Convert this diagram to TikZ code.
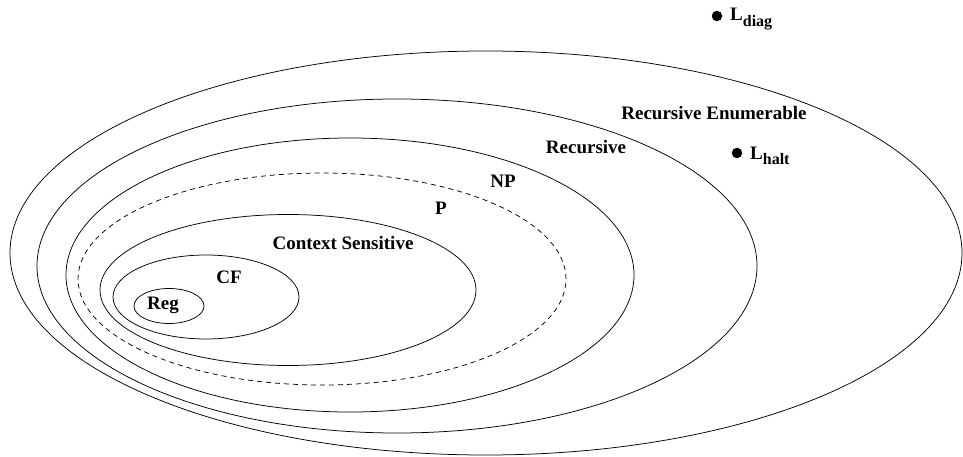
\documentclass[tikz,border=0pt]{standalone}
\usepackage{fontspec}
\setmainfont{Liberation Serif}
\usetikzlibrary{shapes.geometric}
\begin{document}
\begin{tikzpicture}[x=1pt,y=-1pt,
  cls/.style={draw, ellipse, line width=0.75pt, inner sep=0pt},
  lbl/.style={font=\fontsize{19}{19}\bfseries\selectfont, inner sep=0pt},
  lang/.style={circle, fill=black, inner sep=0pt, minimum size=10.5pt}]
\useasboundingbox (0,0) rectangle (963,457);
% nested language classes
\node[cls, minimum width=952pt, minimum height=404pt] (re)  at (486,253) {};
\node[cls, minimum width=720pt, minimum height=334pt] (rec) at (397,266) {};
\node[cls, minimum width=568pt, minimum height=274pt] (np)  at (350,275) {};
\node[cls, dashed, dash pattern=on 5pt off 4pt, minimum width=488pt, minimum height=212pt] (p) at (322,279) {};
\node[cls, minimum width=376pt, minimum height=151pt] (cs)  at (288,290) {};
\node[cls, minimum width=186pt, minimum height=84pt]  (cf)  at (206,297) {};
\node[cls, minimum width=70pt,  minimum height=35pt]  (reg) at (169,306) {};
% class names
\node[lbl] (lre)  at (714,113) {Recursive Enumerable};
\node[lbl] (lrec) at (586,147) {Recursive};
\node[lbl] (lnp)  at (503,181) {NP};
\node[lbl] (lp)   at (441,208) {P};
\node[lbl] (lcs)  at (343,243) {Context Sensitive};
\node[lbl] (lcf)  at (229,277) {CF};
\node[lbl] (lreg) at (163,305) {Reg};
% sample languages
\node[lang] (halt) at (737,153) {};
\node[lbl, anchor=west] (thalt) at (750,156) {L\raisebox{-0.3em}{\fontsize{16}{16}\selectfont halt}};
\node[lang] (diag) at (717,16) {};
\node[lbl, anchor=west] (tdiag) at (730,19) {L\raisebox{-0.3em}{\fontsize{16}{16}\selectfont diag}};
\end{tikzpicture}
\end{document}
